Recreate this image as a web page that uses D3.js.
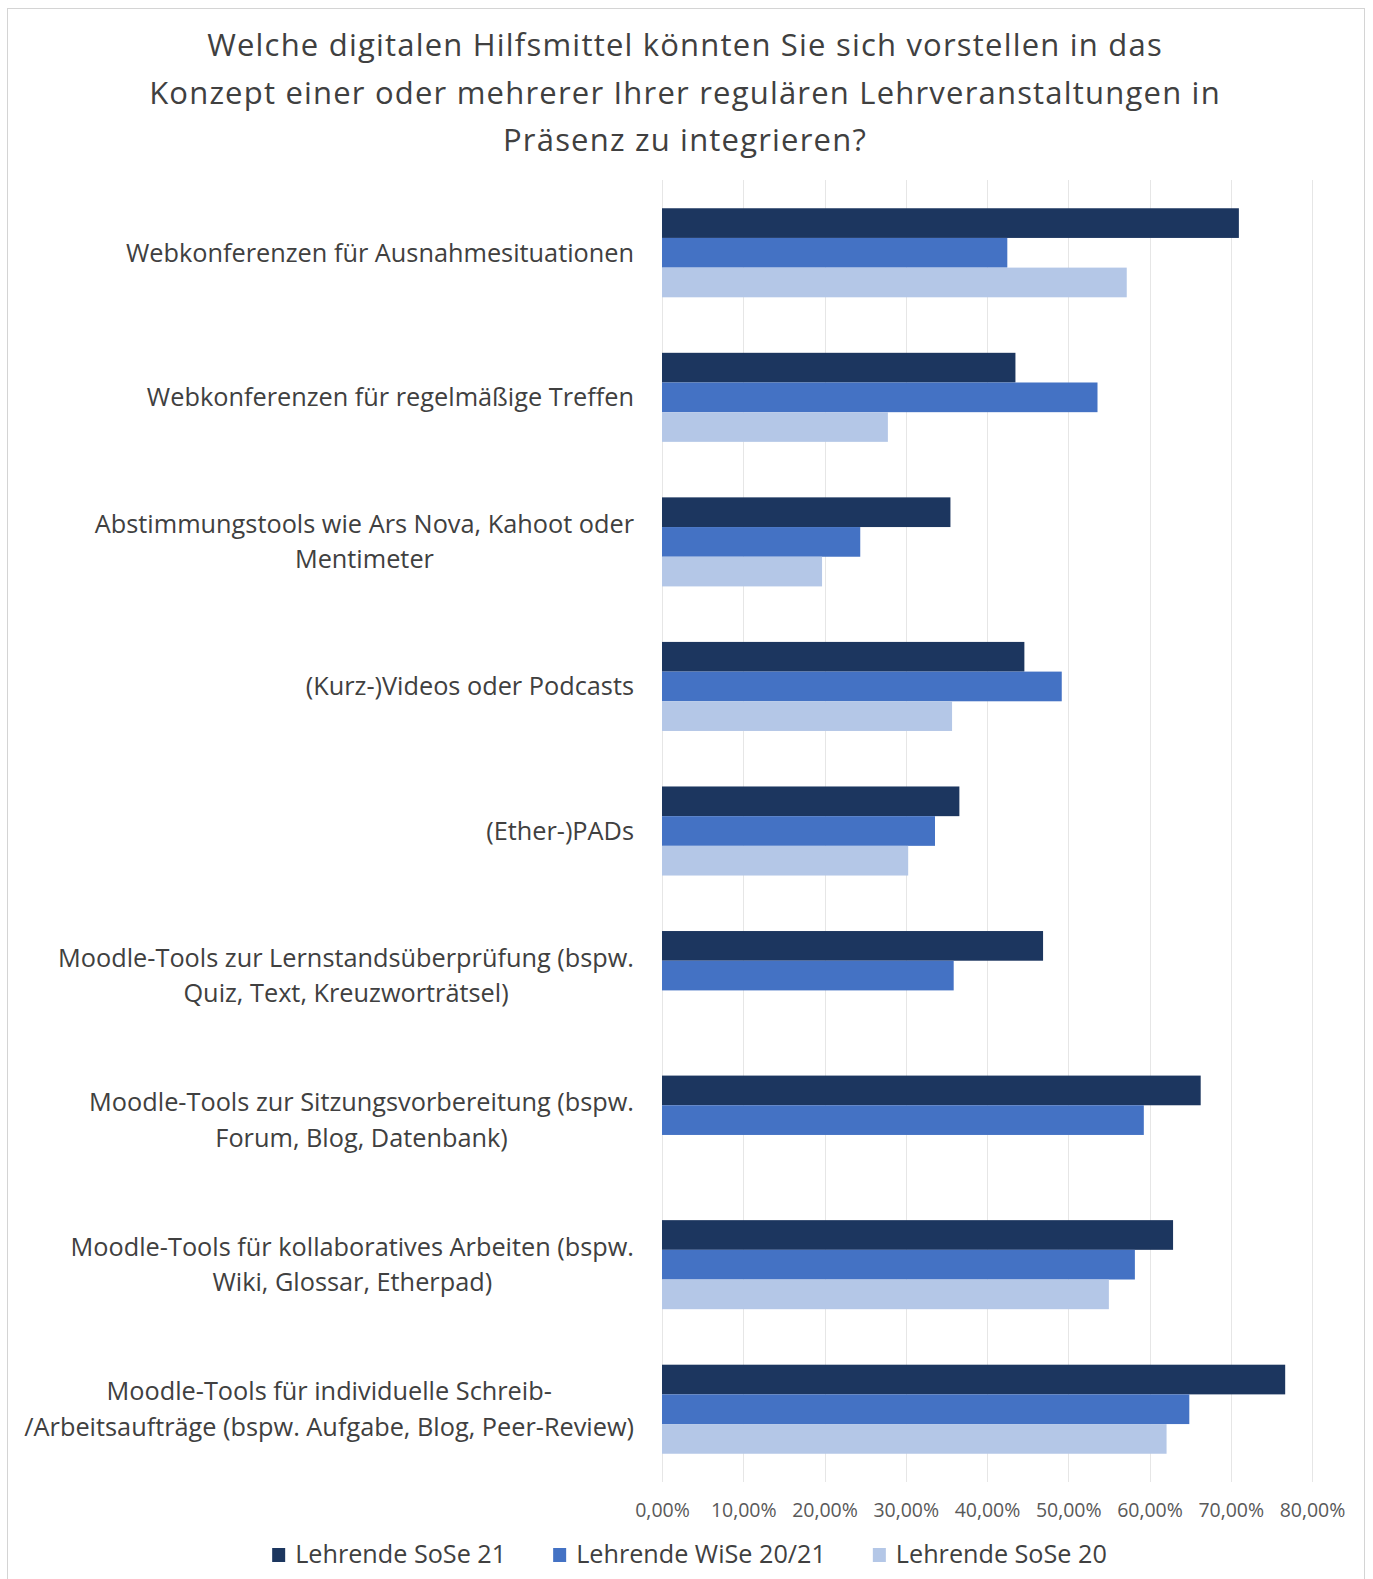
<!DOCTYPE html>
<html>
<head>
<meta charset="utf-8">
<script src="https://cdn.jsdelivr.net/npm/d3@7"></script>
<style>
  body { margin: 0; background: #fff; }
  text { font-family: "Open Sans", sans-serif; }
</style>
</head>
<body>
<div id="chart"></div>
<script>
// Daten aus dem Diagramm
const titleLines = [
  "Welche digitalen Hilfsmittel könnten Sie sich vorstellen in das",
  "Konzept einer oder mehrerer Ihrer regulären Lehrveranstaltungen in",
  "Präsenz zu integrieren?"
];
const categories = [
  "Webkonferenzen für Ausnahmesituationen",
  "Webkonferenzen für regelmäßige Treffen",
  "Abstimmungstools wie Ars Nova, Kahoot oder\nMentimeter",
  "(Kurz-)Videos oder Podcasts",
  "(Ether-)PADs",
  "Moodle-Tools zur Lernstandsüberprüfung (bspw.\nQuiz, Text, Kreuzworträtsel)",
  "Moodle-Tools zur Sitzungsvorbereitung (bspw.\nForum, Blog, Datenbank)",
  "Moodle-Tools für kollaboratives Arbeiten (bspw.\nWiki, Glossar, Etherpad)",
  "Moodle-Tools für individuelle Schreib-\n/Arbeitsaufträge (bspw. Aufgabe, Blog, Peer-Review)"
];
const seriesNames = ["Lehrende SoSe 21", "Lehrende WiSe 20/21", "Lehrende SoSe 20"];
const sose21   = [0.710, 0.435, 0.355, 0.446, 0.366, 0.469, 0.663, 0.629, 0.767];
const wise2021 = [0.425, 0.536, 0.244, 0.492, 0.336, 0.359, 0.593, 0.582, 0.649];
const sose20   = [0.572, 0.278, 0.197, 0.357, 0.303, null, null, 0.550, 0.621];
const tickValues = [0, 0.1, 0.2, 0.3, 0.4, 0.5, 0.6, 0.7, 0.8];
const colors = ["#1c365f", "#4472c4", "#b4c7e7"];

const series = [sose21, wise2021, sose20];
const width = 1373, height = 1579;
const textColor = "#404040";

const svg = d3.select("#chart")
  .append("svg")
  .attr("width", width)
  .attr("height", height);

// Rahmen
svg.append("rect")
  .attr("x", 7.5).attr("y", 8.5)
  .attr("width", 1357).attr("height", 1585)
  .attr("fill", "#fff")
  .attr("stroke", "#d4d4d4");

// Titel
svg.append("g").selectAll("text")
  .data(titleLines)
  .join("text")
  .attr("x", 685)
  .attr("y", (d, i) => 56 + i * 47.5)
  .attr("text-anchor", "middle")
  .attr("font-size", 31)
  .attr("letter-spacing", 1.2)
  .attr("fill", textColor)
  .text(d => d);

// Skalen
const x = d3.scaleLinear().domain([0, 0.8]).range([662, 1312]);
const y = d3.scaleBand()
  .domain(d3.range(categories.length))
  .range([180.5, 1481.5])
  .paddingInner(0.384)
  .paddingOuter(0.192);
const ySub = d3.scaleBand().domain(d3.range(series.length)).range([0, y.bandwidth()]);

// Gitterlinien
svg.append("g").selectAll("line")
  .data(tickValues)
  .join("line")
  .attr("x1", d => Math.round(x(d)) + 0.5)
  .attr("x2", d => Math.round(x(d)) + 0.5)
  .attr("y1", 180)
  .attr("y2", 1482)
  .attr("stroke", "#e6e6e6");

// Balken
series.forEach((values, s) => {
  svg.append("g").selectAll("rect")
    .data(values.map((v, i) => ({i, v})).filter(d => d.v != null))
    .join("rect")
    .attr("x", x(0))
    .attr("y", d => y(d.i) + ySub(s))
    .attr("width", d => x(d.v) - x(0))
    .attr("height", ySub.bandwidth())
    .attr("fill", colors[s]);
});

// Kategorie-Beschriftungen (Block rechtsbündig, Zeilen zentriert)
const lineH = 35.5;
categories.forEach((c, i) => {
  const lines = c.split("\n");
  const g = svg.append("g");
  const texts = g.selectAll("text")
    .data(lines)
    .join("text")
    .attr("y", (d, k) => y(i) + y.bandwidth() / 2 + (k - (lines.length - 1) / 2) * lineH)
    .attr("dy", "0.35em")
    .attr("text-anchor", "middle")
    .attr("font-size", 25.3)
    .attr("fill", textColor)
    .text(d => d);
  const maxW = d3.max(texts.nodes(), n => n.getComputedTextLength());
  texts.attr("x", 634 - maxW / 2);
});

// X-Achse
const locale = d3.formatLocale({decimal: ",", thousands: ".", grouping: [3], currency: ["", " €"]});
const xAxis = svg.append("g")
  .attr("transform", "translate(0,1500)")
  .call(d3.axisBottom(x).tickValues(tickValues).tickSize(0).tickFormat(locale.format(".2%")));
xAxis.select(".domain").remove();
xAxis.selectAll("text")
  .attr("font-family", "Open Sans")
  .attr("font-size", 19.5)
  .attr("fill", "#595959");

// Legende
const legendGap = 47;
const legend = svg.append("g");
let lx = 0;
seriesNames.forEach((name, s) => {
  const item = legend.append("g").attr("transform", `translate(${lx},0)`);
  item.append("rect")
    .attr("x", 0).attr("y", 1548)
    .attr("width", 13).attr("height", 14)
    .attr("fill", colors[s]);
  const t = item.append("text")
    .attr("x", 23).attr("y", 1563)
    .attr("font-size", 25.2)
    .attr("fill", textColor)
    .text(name);
  lx += 23 + t.node().getComputedTextLength() + legendGap;
});
const legendW = lx - legendGap;
legend.attr("transform", `translate(${689.5 - legendW / 2},0)`);
</script>
</body>
</html>
